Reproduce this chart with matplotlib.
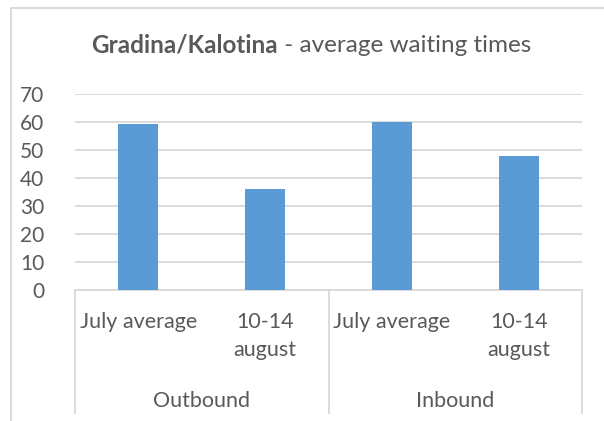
import matplotlib.pyplot as plt
import matplotlib.transforms as mtransforms
from matplotlib.lines import Line2D

plt.rcParams['font.family'] = ['Lato', 'DejaVu Sans']

groups = ["Outbound", "Inbound"]
periods = ["July average", "10-14\naugust"]
values = [59.3, 36, 60, 48]
yticks = [0, 10, 20, 30, 40, 50, 60, 70]

text_color = "#595959"
bar_color = "#5B9BD5"
line_color = "#D9D9D9"

W, H = 604, 421
fig = plt.figure(figsize=(W / 100, H / 100), dpi=100)

# chart frame (picture is cropped on right and bottom)
fig.lines.append(Line2D([11 / W, 11 / W, 1], [0, 1 - 8 / H, 1 - 8 / H],
                        transform=fig.transFigure, color=line_color, lw=1.4))

left, right, top, bottom = 75, 582, 94, 290
ax = fig.add_axes([left / W, 1 - bottom / H, (right - left) / W, (bottom - top) / H])

x = list(range(len(values)))
ax.bar(x, values, width=0.315, color=bar_color, zorder=3)
ax.set_xlim(-0.5, len(values) - 0.5)
ax.set_ylim(0, 70)
ax.set_yticks(yticks)
ax.tick_params(axis="y", length=0, pad=22, labelsize=15, labelcolor=text_color)
ax.tick_params(axis="x", length=0, labelbottom=False)
ax.yaxis.grid(True, color=line_color, lw=1.3, zorder=0)
for s in ["top", "right", "left"]:
    ax.spines[s].set_visible(False)
ax.spines["bottom"].set_color(line_color)
ax.spines["bottom"].set_linewidth(1.3)
ax.set_facecolor("white")

# multi-level category axis
tr = mtransforms.blended_transform_factory(ax.transData, fig.transFigure)
for i, v in enumerate(values):
    ax.text(i, 1 - 312 / H, periods[i % 2], transform=tr, ha="center", va="top",
            fontsize=15.5, color=text_color, linespacing=1.5)
for g, name in enumerate(groups):
    ax.text(2 * g + 0.5, 1 - 401 / H, name, transform=tr, ha="center", va="center",
            fontsize=15.5, color=text_color)
for xs in [-0.5, 1.5, 3.5]:
    ax.plot([xs, xs], [1 - bottom / H, 1 - 413 / H], transform=tr, color=line_color,
            lw=1.3, clip_on=False)

# title: bold part + regular part
t1 = fig.text(0, 1 - 45 / H, "Gradina/Kalotina", fontsize=17.5, fontweight="bold",
              color=text_color, ha="left", va="center")
t2 = fig.text(0, 1 - 45 / H, " - average waiting times", fontsize=17.5,
              color=text_color, ha="left", va="center")
fig.canvas.draw()
r = fig.canvas.get_renderer()
w1 = t1.get_window_extent(r).width
w2 = t2.get_window_extent(r).width
x0 = 311 - (w1 + w2) / 2
t1.set_x(x0 / W)
t2.set_x((x0 + w1) / W)

fig.savefig("out.png", dpi=100)
